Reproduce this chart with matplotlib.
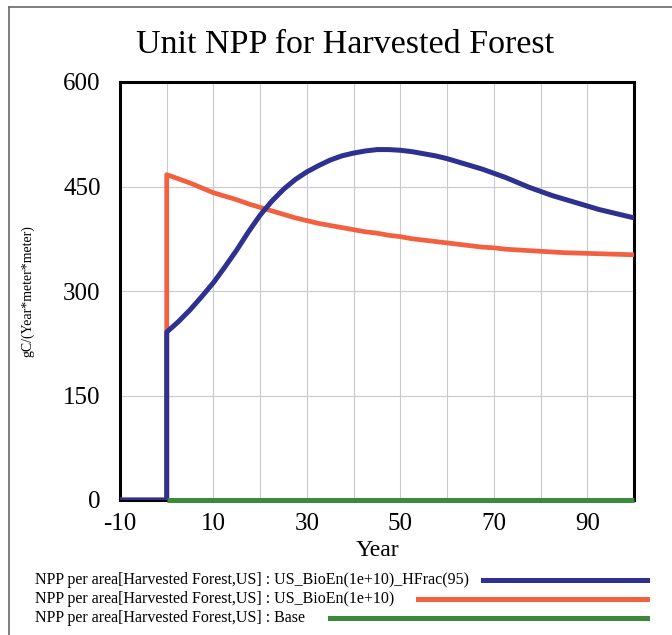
import numpy as np
import matplotlib
matplotlib.use("Agg")
import matplotlib.pyplot as plt
from matplotlib.lines import Line2D

plt.rcParams['font.family'] = ['Liberation Serif', 'DejaVu Serif']
plt.rcParams['axes.unicode_minus'] = False

# simulation output every 2.5 years; harvest starts at year 0
years = [-10, 0] + list(np.arange(0, 100.1, 2.5))
npp_hfrac = [0, 0,
             241, 256, 273, 292, 312, 335, 359, 385, 409, 429,
             446, 460, 471, 480, 488, 494, 498, 501, 503, 503,
             502, 500, 497, 494, 490, 485, 480, 475, 469, 463,
             456, 449, 443, 437, 432, 427, 422, 417, 413, 409, 405]
npp_bioen = [0, 0,
             467, 461, 455, 448, 441, 436, 431, 425, 420, 415,
             410, 405, 401, 397, 394, 391, 388, 385, 383, 380,
             378, 375, 373, 371, 369, 367, 365, 363, 362, 360,
             359, 358, 357, 356, 355, 354.5, 354, 353.5, 353, 352.5, 352]
npp_base = [0] * len(years)

labels = ["NPP per area[Harvested Forest,US] : US_BioEn(1e+10)_HFrac(95)",
          "NPP per area[Harvested Forest,US] : US_BioEn(1e+10)",
          "NPP per area[Harvested Forest,US] : Base"]
colors = ["#2e3190", "#f2603f", "#3b8b3b"]

xticks = [-10, 10, 30, 50, 70, 90]
yticks = [0, 150, 300, 450, 600]

fig = plt.figure(figsize=(6.72, 6.35), dpi=100)
W, H = 672, 635
ax = fig.add_axes([120 / W, 1 - 500 / H, (634 - 120) / W, (500 - 82) / H])

ax.plot(years, npp_bioen, color=colors[1], lw=3.4, zorder=3)
ax.plot(years, npp_hfrac, color=colors[0], lw=3.6, zorder=4)
# base run only drawn from year 0 on
x_base = years[2:]
ax.plot(x_base, npp_base[2:], color=colors[2], lw=3.6, zorder=5,
        clip_on=False, solid_capstyle='butt')

ax.set_xlim(-10, 100)
ax.set_ylim(0, 600)
ax.set_xticks(np.arange(-10, 101, 10), minor=True)
ax.set_xticks(xticks)
ax.set_yticks(yticks)
ax.grid(True, which='both', axis='x', color='#c9c9d2', lw=0.8)
ax.grid(True, axis='y', color='#c9c9d2', lw=0.8)
ax.tick_params(which='both', length=0)
ax.tick_params(axis='y', pad=14, labelsize=18)
ax.tick_params(axis='x', pad=9, labelsize=18)
for s in ax.spines.values():
    s.set_linewidth(2.2)
    s.set_color('black')

fig.text(345 / W, 1 - 45 / H, "Unit NPP for Harvested Forest", ha='center', va='center',
         fontsize=24.5)
fig.text(377 / W, 1 - 550 / H, "Year", ha='center', va='center', fontsize=17)
fig.text(28 / W, 1 - 291 / H, "gC/(Year*meter*meter)", ha='center', va='center',
         rotation=90, fontsize=10)

# legend rows with sample lines to the right of the text
rows_y = [580, 599, 618]
line_start = [483, 418, 330]
for lab, c, y, x0 in zip(labels, colors, rows_y, line_start):
    fig.text(35 / W, 1 - y / H, lab, ha='left', va='center', fontsize=11.5)
    fig.add_artist(Line2D([x0 / W, 647 / W], [1 - y / H, 1 - y / H], color=c, lw=3.6))

# outer frame
fig.add_artist(Line2D([9 / W, 1.0], [1 - 7 / H, 1 - 7 / H], color='#6a6a6a', lw=1.2))
fig.add_artist(Line2D([9 / W, 9 / W], [0, 1 - 7 / H], color='#6a6a6a', lw=1.2))

fig.savefig("out.png", dpi=100)
